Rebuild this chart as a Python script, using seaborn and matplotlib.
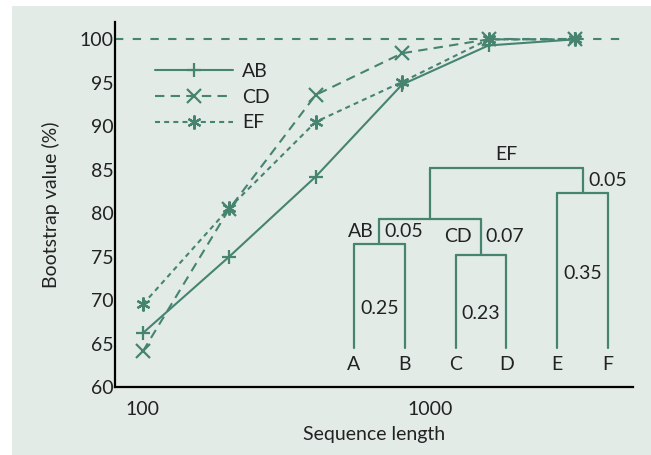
import numpy as np
import pandas as pd
import matplotlib.pyplot as plt
import seaborn as sns
from matplotlib.patches import Rectangle

# Estilo
sns.set_theme(style="white")
plt.rcParams["font.family"] = ["Lato", "DejaVu Sans"]
plt.rcParams.update({"font.size": 14, "ytick.direction": "in", "ytick.major.size": 8,
                     "ytick.major.pad": 1})

bg = "#e3ebe7"
green = "#468470"
ink = "#222222"
fs = 14

# Datos
seq_len = [100, 200, 400, 800, 1600, 3200]
boot_ab = [66.2, 75.0, 84.2, 94.8, 99.3, 100.0]
boot_cd = [64.1, 80.5, 93.6, 98.4, 100.0, 100.0]
boot_ef = [69.5, 80.6, 90.5, 95.1, 100.0, 100.0]

# Árbol: hojas y longitudes de rama
leaves = ["A", "B", "C", "D", "E", "F"]
leaf_len = [0.25, 0.25, 0.23, 0.23, 0.35, 0.35]
inner_len = {"AB": 0.05, "CD": 0.07, "EF": 0.05}

df = pd.DataFrame({
    "length": seq_len * 3,
    "value": boot_ab + boot_cd + boot_ef,
    "pair": ["AB"] * 6 + ["CD"] * 6 + ["EF"] * 6,
})

fig = plt.figure(figsize=(6.51, 4.55), dpi=100)
fig.patch.set_facecolor("white")
fig.patches.append(Rectangle((12 / 651, 0), 1, 449 / 455, transform=fig.transFigure,
                             facecolor=bg, edgecolor="none", zorder=-10))

ax = fig.add_axes([0.1767, 0.1495, 0.7957, 0.8022])
ax.set_facecolor(bg)

styles = {
    "AB": dict(linestyle="-", marker="+"),
    "CD": dict(linestyle=(0, (4.5, 3)), marker="x"),
    "EF": dict(linestyle=(0, (2.4, 2)), marker=(6, 2, 0)),
}
for pair, st in styles.items():
    sub = df[df["pair"] == pair]
    sns.lineplot(data=sub, x="length", y="value", ax=ax, color=green, lw=1.5,
                 linestyle=st["linestyle"], marker=st["marker"], markersize=10,
                 markeredgewidth=1.6, markeredgecolor=green, label=pair)

ax.axhline(100, xmax=0.98, color=green, lw=1.5, linestyle=(0, (4, 4.5)), zorder=0)

ax.set_xscale("log")
ax.set_xlim(80, 5100)
ax.set_ylim(60, 102)
ax.set_xticks([100, 1000], ["100", "1000"])
ax.xaxis.set_minor_locator(plt.NullLocator())
ax.set_yticks(range(60, 101, 5))
ax.tick_params(axis="y", width=1.3, color="#333333", labelsize=fs, labelcolor=ink)
ax.tick_params(axis="x", length=0, labelsize=fs, labelcolor=ink, pad=10)

for side in ["top", "right"]:
    ax.spines[side].set_visible(False)
for side in ["left", "bottom"]:
    ax.spines[side].set_color("black")
    ax.spines[side].set_linewidth(1.6)

ax.set_xlabel("Sequence length", fontsize=fs, color=ink, labelpad=6)
ax.set_ylabel("Bootstrap value (%)", fontsize=fs, color=ink, labelpad=14)

ax.legend(loc="upper left", bbox_to_anchor=(0.077, 0.888), frameon=False,
          borderpad=0, borderaxespad=0, handlelength=4.0, handletextpad=0.5,
          labelspacing=0.45, fontsize=fs, labelcolor=ink)

# Árbol insertado
ins = fig.add_axes([0.5115, 0.1692, 0.4578, 0.5077])
ins.set_facecolor("none")
for s in ins.spines.values():
    s.set_visible(False)
ins.set_xticks([])
ins.set_yticks([])
ins.set_xlim(-0.413, 5.453)
ins.set_ylim(-0.012, 0.441)

leaf_top = 0.047
pos = np.arange(len(leaves))
h_ab, h_cd, h_ef = leaf_len[0], leaf_len[2], leaf_len[4]
h_abcd = h_ab + inner_len["AB"]
h_root = h_ef + inner_len["EF"]
x_ab, x_cd, x_ef = pos[0:2].mean(), pos[2:4].mean(), pos[4:6].mean()
x_abcd = (x_ab + x_cd) / 2

lkw = dict(color=green, lw=1.6)
for i, l in enumerate(leaves):
    ins.plot([pos[i], pos[i]], [leaf_top, leaf_len[i]], **lkw)
    ins.text(pos[i], 0.014, l, ha="center", va="center", fontsize=fs, color=ink)
for (a, b, h) in [(0, 1, h_ab), (2, 3, h_cd), (4, 5, h_ef)]:
    ins.plot([pos[a], pos[b]], [h, h], **lkw)
ins.plot([x_ab, x_ab], [h_ab, h_abcd], **lkw)
ins.plot([x_cd, x_cd], [h_cd, h_abcd], **lkw)
ins.plot([x_ab, x_cd], [h_abcd, h_abcd], **lkw)
ins.plot([x_abcd, x_abcd], [h_abcd, h_root], **lkw)
ins.plot([x_ef, x_ef], [h_ef, h_root], **lkw)
ins.plot([x_abcd, x_ef], [h_root, h_root], **lkw)

tkw = dict(fontsize=fs, color=ink, va="center")
ins.text((x_abcd + x_ef) / 2, h_root + 0.026, "EF", ha="center", **tkw)
ins.text(x_ef + 0.12, (h_ef + h_root) / 2, f"{inner_len['EF']:.2f}", ha="left", **tkw)
ins.text(x_ab - 0.12, (h_ab + h_abcd) / 2, "AB", ha="right", **tkw)
ins.text(x_ab + 0.09, (h_ab + h_abcd) / 2, f"{inner_len['AB']:.2f}", ha="left", **tkw)
ins.text(x_cd - 0.18, (h_cd + h_abcd) / 2, "CD", ha="right", **tkw)
ins.text(x_cd + 0.09, (h_cd + h_abcd) / 2, f"{inner_len['CD']:.2f}", ha="left", **tkw)
ins.text(x_ab, h_ab / 2, f"{h_ab:.2f}", ha="center", **tkw)
ins.text(x_cd, h_cd / 2, f"{h_cd:.2f}", ha="center", **tkw)
ins.text(x_ef, h_ef * 0.55, f"{h_ef:.2f}", ha="center", **tkw)

fig.savefig("out.png", dpi=100, facecolor=fig.get_facecolor())
